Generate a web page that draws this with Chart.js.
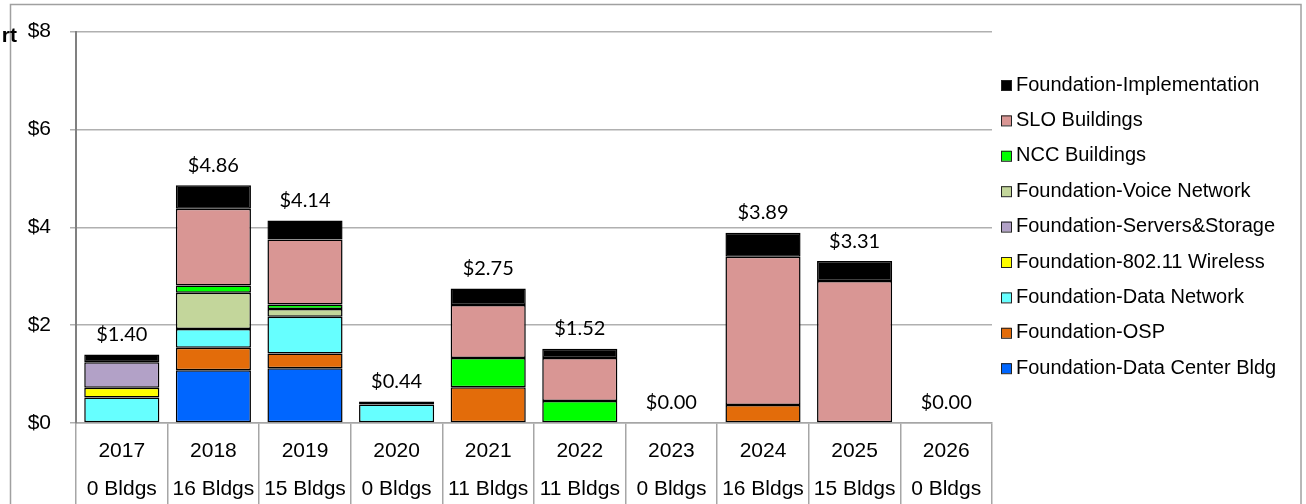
<!DOCTYPE html>
<html><head><meta charset="utf-8">
<script src="https://cdn.jsdelivr.net/npm/chart.js@4.4.0/dist/chart.umd.min.js"></script>
<style>html,body{margin:0;padding:0;background:#fff;overflow:hidden}#wrap{position:relative;width:1306px;height:504px}</style>
</head><body><div id="wrap"><canvas id="c" width="1306" height="504"></canvas></div>
<script>
const years = ['2017','2018','2019','2020','2021','2022','2023','2024','2025','2026'];
const buildings = ['0 Bldgs','16 Bldgs','15 Bldgs','0 Bldgs','11 Bldgs','11 Bldgs','0 Bldgs','16 Bldgs','15 Bldgs','0 Bldgs'];
const dataCenterBldg = [0, 1.08, 1.12, 0, 0, 0, 0, 0, 0, 0];
const osp            = [0, 0.46, 0.30, 0, 0.73, 0, 0, 0.37, 0, 0];
const dataNetwork    = [0.52, 0.38, 0.75, 0.38, 0, 0, 0, 0, 0, 0];
const wireless       = [0.20, 0, 0, 0, 0, 0, 0, 0, 0, 0];
const serversStorage = [0.52, 0, 0, 0, 0, 0, 0, 0, 0, 0];
const voiceNetwork   = [0, 0.74, 0.16, 0, 0, 0, 0, 0, 0, 0];
const nccBuildings   = [0, 0.15, 0.09, 0, 0.60, 0.45, 0, 0, 0, 0];
const sloBuildings   = [0, 1.57, 1.33, 0, 1.08, 0.88, 0, 3.03, 2.90, 0];
const implementation = [0.16, 0.48, 0.39, 0.06, 0.34, 0.19, 0, 0.49, 0.41, 0];
const yTicks = [0, 2, 4, 6, 8];

const series = [
  {name:'Foundation-Data Center Bldg', data:dataCenterBldg, color:'#0066FF'},
  {name:'Foundation-OSP', data:osp, color:'#E36C0A'},
  {name:'Foundation-Data Network', data:dataNetwork, color:'#66FFFF'},
  {name:'Foundation-802.11 Wireless', data:wireless, color:'#FFFF00'},
  {name:'Foundation-Servers&Storage', data:serversStorage, color:'#B2A1C7'},
  {name:'Foundation-Voice Network', data:voiceNetwork, color:'#C3D69B'},
  {name:'NCC Buildings', data:nccBuildings, color:'#00FF00'},
  {name:'SLO Buildings', data:sloBuildings, color:'#D99694'},
  {name:'Foundation-Implementation', data:implementation, color:'#000000'}
];

const AX_FONT = '"Liberation Sans", Arial, sans-serif';

const framePlugin = {
  id:'frame',
  beforeDraw(chart){
    const c = chart.ctx;
    c.save();
    c.fillStyle = '#fff';
    c.fillRect(0,0,chart.width,chart.height);
    c.strokeStyle = '#a0a0a0';
    c.lineWidth = 1.5;
    c.strokeRect(10.5, 4.5, 1290.5, 520);
    c.fillStyle = '#000';
    c.font = 'bold 21px ' + AX_FONT;
    c.textAlign = 'right';
    c.textBaseline = 'middle';
    c.fillText('rt', 17, 36);
    c.restore();
  }
};

const totalsPlugin = {
  id:'totals',
  afterDatasetsDraw(chart){
    const c = chart.ctx;
    const xs = chart.scales.x, ys = chart.scales.y;
    c.save();
    c.fillStyle = '#000';
    c.font = '20px Lato, "Open Sans", sans-serif';
    c.textAlign = 'center';
    c.textBaseline = 'middle';
    years.forEach((y,i)=>{
      let t = 0;
      chart.data.datasets.forEach(ds=>{ t += ds.data[i] || 0; });
      const x = xs.getPixelForValue(i);
      const py = ys.getPixelForValue(t);
      c.fillText('$' + t.toFixed(2), x, py - 20);
    });
    c.restore();
  }
};

const legendPlugin = {
  id:'customLegend',
  afterDraw(chart){
    const c = chart.ctx;
    const items = chart.data.datasets.slice().reverse();
    c.save();
    c.font = '20px ' + AX_FONT;
    c.textBaseline = 'middle';
    c.textAlign = 'left';
    items.forEach((ds,k)=>{
      const cy = 85 + k*35.4;
      c.fillStyle = ds.backgroundColor;
      c.fillRect(1001, cy-5, 10, 10);
      c.strokeStyle = '#222';
      c.lineWidth = 1;
      c.strokeRect(1001.5, cy-4.5, 10, 10);
      c.fillStyle = '#000';
      c.fillText(ds.label, 1016, cy);
    });
    c.restore();
  }
};

new Chart(document.getElementById('c'), {
  type:'bar',
  data:{
    labels: years.map((y,i)=>[y, buildings[i]]),
    datasets: series.map(s=>({
      label:s.name, data:s.data, backgroundColor:s.color,
      borderColor:'#000',
      borderWidth:(ctx)=> (ctx.raw ? 1.5 : 0),
      borderSkipped:false,
      barPercentage:0.82, categoryPercentage:1
    }))
  },
  options:{
    responsive:false, animation:false, devicePixelRatio:1,
    layout:{padding:{left:0, top:31, right:314, bottom:0}},
    plugins:{legend:{display:false}, tooltip:{enabled:false}},
    scales:{
      x:{
        stacked:true,
        grid:{offset:true, drawOnChartArea:false, drawTicks:true, tickLength:81, color:'#a6a6a6', lineWidth:1.5},
        border:{display:true, color:'#a6a6a6', width:1.5},
        ticks:{padding:-72, color:'#000', maxRotation:0, autoSkip:false,
               font:{family:AX_FONT, size:21, lineHeight:1.81}},
        afterFit(s){ s.height = 81; }
      },
      y:{
        stacked:true, min:0, max:8,
        afterBuildTicks(s){ s.ticks = yTicks.map(v=>({value:v})); },
        grid:{color:'#b0b0b0', lineWidth:1.5, tickLength:6},
        border:{color:'#808080', width:2},
        ticks:{padding:19, color:'#000', font:{family:AX_FONT, size:21},
               callback:(v)=>'$' + v},
        afterFit(s){ s.width = 76; }
      }
    }
  },
  plugins:[framePlugin, totalsPlugin, legendPlugin]
});
</script>
</body></html>
